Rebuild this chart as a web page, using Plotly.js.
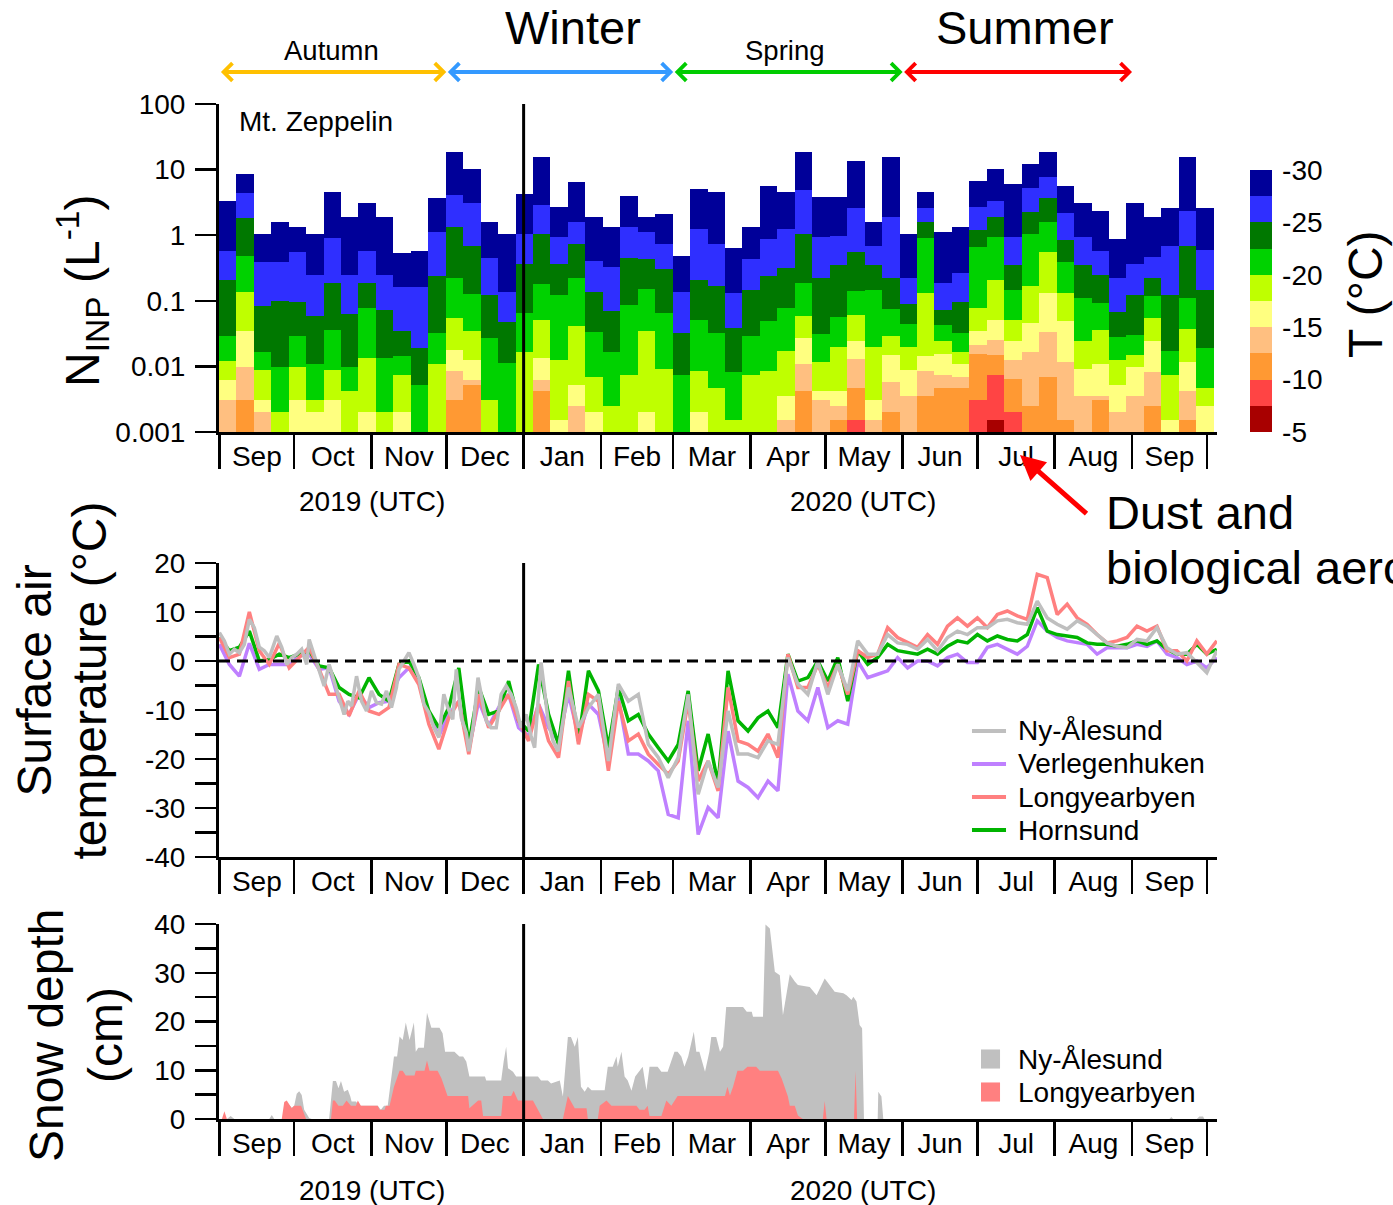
<!DOCTYPE html>
<html>
<head>
<meta charset="utf-8">
<script src="https://cdn.plot.ly/plotly-3.0.1.min.js"></script>
<style>
  html, body { margin: 0; padding: 0; background: #ffffff; }
  #chart { width: 1393px; height: 1205px; }
</style>
</head>
<body>
<div id="chart"></div>
<script>
// ---------------- INP samples at Mt. Zeppelin (weekly filters) ----------------
// Sample boundaries (UTC); bar i spans sampleEdges[i] .. sampleEdges[i+1]
const sampleEdges = [
  "2019-09-01T00:00",
  "2019-09-07T18:00","2019-09-14T18:00","2019-09-21T18:00","2019-09-28T18:00",
  "2019-10-05T18:00","2019-10-12T18:00","2019-10-19T18:00","2019-10-26T18:00",
  "2019-11-02T18:00","2019-11-09T18:00","2019-11-16T18:00","2019-11-23T18:00","2019-11-30T18:00",
  "2019-12-07T18:00","2019-12-14T18:00","2019-12-21T18:00","2019-12-28T18:00",
  "2020-01-04T18:00","2020-01-11T18:00","2020-01-18T18:00","2020-01-25T18:00",
  "2020-02-01T18:00","2020-02-08T18:00","2020-02-15T18:00","2020-02-22T18:00","2020-02-29T18:00",
  "2020-03-07T18:00","2020-03-14T18:00","2020-03-21T18:00","2020-03-28T18:00",
  "2020-04-04T18:00","2020-04-11T18:00","2020-04-18T18:00","2020-04-25T18:00",
  "2020-05-02T18:00","2020-05-09T18:00","2020-05-16T18:00","2020-05-23T18:00","2020-05-30T18:00",
  "2020-06-06T18:00","2020-06-13T18:00","2020-06-20T18:00","2020-06-27T18:00",
  "2020-07-04T18:00","2020-07-11T18:00","2020-07-18T18:00","2020-07-25T18:00",
  "2020-08-01T18:00","2020-08-08T18:00","2020-08-15T18:00","2020-08-22T18:00","2020-08-29T18:00",
  "2020-09-05T18:00","2020-09-12T18:00","2020-09-19T18:00","2020-09-26T18:00",
  "2020-10-03T18:00"
];

// Cumulative INP concentration (L^-1) active at each freezing temperature; null = below detection
const inpAtMinus30 = [3.3,8.7,1.03,1.58,1.35,1.03,4.6,1.9,3.1,1.9, 0.54,0.57,3.7,18.7,10.2,1.58,1.03,4.2,15.7,2.7, 6.5,1.9,1.35,3.9,1.9,2.1,0.48,5.1,4.6,0.63, 1.35,5.7,4.6,18.7,3.8,3.8,13.3,1.58,15.7,1.03, 4.6,1.13,1.35,6.7,10.2,6.1,12.3,18.7,5.7,3.1, 2.35,0.89,3.1,1.9,2.6,15.7,2.6];
const inpAtMinus27_5 = [0.57,4.4,0.39,0.39,0.55,0.25,0.90,0.25,0.57,0.25, 0.164,0.164,1.12,4.1,3.1,0.45,0.136,1.03,2.9,0.94, 1.6,0.41,0.33,1.35,1.12,0.73,0.136,1.23,0.73,0.13, 0.43,0.87,1.23,4.9,0.95,0.97,2.6,0.69,1.9,0.225, 2.6,0.19,0.27,2.7,3.3,0.95,5.2,7.8,2.2,0.95, 0.57,0.225,0.37,0.47,0.69,2.35,0.60];
const inpAtMinus25 = [0.21,1.86,0.083,0.099,0.096,0.058,0.19,0.064,0.184,0.072, 0.0345,0.0192,0.24,1.35,0.69,0.121,0.048,0.36,1.03,0.36, 0.73,0.137,0.071,0.45,0.44,0.305,0.0321,0.205,0.168,0.039, 0.144,0.24,0.32,1.03,0.225,0.35,0.55,0.35,0.225,0.091, 1.58,0.072,0.097,1.22,1.9,0.35,2.27,3.7,0.84,0.35, 0.25,0.067,0.121,0.225,0.121,0.69,0.146];
const inpAtMinus22_5 = [0.029,0.49,0.0165,0.0097,0.029,0.0109,0.0365,0.0097,0.077,0.0135, 0.0146,0.0053,0.0321,0.225,0.125,0.0269,0.0112,0.065,0.178,0.121, 0.22,0.0337,0.0165,0.085,0.149,0.066,0.0075,0.051,0.0321,0.0081, 0.0296,0.05,0.077,0.19,0.0317,0.056,0.141,0.144,0.074,0.044, 0.90,0.043,0.0325,0.65,0.95,0.144,1.03,1.58,0.39,0.111, 0.092,0.0282,0.0306,0.118,0.0171,0.111,0.0192];
const inpAtMinus20 = [0.0123,0.136,0.0087,0.002,0.0097,0.0031,0.0087,0.0042,0.0135,0.002, 0.0075,null,0.0109,0.055,0.0345,0.0031,null,0.0165,0.051,0.0124, 0.041,0.0069,0.0025,0.0075,0.0345,0.0092,null,0.0086,0.0047,0.0015, 0.0075,0.0086,0.0171,0.058,0.0117,0.0199,0.061,0.0199,0.0296,0.0199, 0.13,0.0242,0.0165,0.078,0.205,0.051,0.168,0.55,0.13,0.024, 0.0365,0.0124,0.0148,0.055,0.0075,0.037,0.0047];
const inpAtMinus17_5 = [0.0063,0.0345,0.0031,null,0.0031,0.002,0.0031,null,0.002,null, 0.002,null,null,0.0177,0.0124,null,null,null,0.0135,0.0015, 0.0053,0.002,null,null,0.002,null,null,0.002,null,null, null,null,0.0036,0.0269,0.0042,0.0042,0.024,0.0031,0.0148,0.0087, 0.0143,0.0155,0.0109,0.0345,0.051,0.0248,0.046,0.13,0.05,0.0092, 0.0109,0.0053,0.0097,0.0248,0.0015,0.0117,0.0025];
const inpAtMinus15 = [0.0031,0.0097,0.002,null,null,null,null,null,null,null, null,null,null,0.0086,0.0063,null,null,null,0.0063,null, 0.0025,null,null,null,null,null,null,null,null,null, null,null,0.0015,0.0109,0.0031,0.0025,0.013,0.0015,0.0058,0.0036, 0.0086,0.0075,0.0068,0.0216,0.0254,0.0124,0.0165,0.0337,0.0117,0.0036, 0.0036,0.002,0.0036,0.0081,null,0.0042,null];
const inpAtMinus12_5 = [null,0.0031,null,null,null,null,null,null,null,null, null,null,null,0.0031,0.0053,null,null,null,0.0042,null, null,null,null,null,null,null,null,null,null,null, null,null,null,0.0042,null,0.0015,0.0047,null,0.002,null, 0.0036,0.0047,0.0047,0.0155,0.0148,0.0064,0.0025,0.0068,0.0015,null, 0.0031,null,null,0.0025,null,0.0015,null];
const inpAtMinus10 = [null,null,null,null,null,null,null,null,null,null, null,null,null,null,null,null,null,null,null,null, null,null,null,null,null,null,null,null,null,null, null,null,null,null,null,null,0.0015,null,null,null, null,null,null,0.0031,0.0075,0.002,null,null,null,null, null,null,null,null,null,null,null];
const inpAtMinus7_5 = [null,null,null,null,null,null,null,null,null,null, null,null,null,null,null,null,null,null,null,null, null,null,null,null,null,null,null,null,null,null, null,null,null,null,null,null,null,null,null,null, null,null,null,null,0.0015,null,null,null,null,null, null,null,null,null,null,null,null];

// Temperature bins (°C), coldest first, and their colours
const binTemps = [-30, -27.5, -25, -22.5, -20, -17.5, -15, -12.5, -10, -7.5];
const binColors = ['#000099','#2f2fff','#007800','#00d200','#bfff00','#ffff80','#ffbf80','#ff9933','#ff4444','#a80000'];
const colorbarTicks = [-5, -10, -15, -20, -25, -30];

// ---------------- Surface air temperature (°C) ----------------
const nyDates = ["2019-09-01","2019-09-03","2019-09-05","2019-09-07","2019-09-09","2019-09-11","2019-09-13","2019-09-15","2019-09-17","2019-09-19","2019-09-21","2019-09-24","2019-09-26","2019-09-28","2019-09-30",
  "2019-10-02","2019-10-04","2019-10-06","2019-10-07","2019-10-09","2019-10-11","2019-10-13","2019-10-15","2019-10-17","2019-10-19","2019-10-21","2019-10-22 12:00","2019-10-24","2019-10-26","2019-10-28","2019-10-30",
  "2019-11-01","2019-11-03","2019-11-05","2019-11-07","2019-11-09","2019-11-11","2019-11-12","2019-11-14","2019-11-16","2019-11-18","2019-11-20","2019-11-22","2019-11-24","2019-11-26","2019-11-28","2019-11-30",
  "2019-12-01 14:00","2019-12-03 14:00","2019-12-05","2019-12-07","2019-12-09","2019-12-10","2019-12-11 17:00","2019-12-13 17:00","2019-12-15","2019-12-17","2019-12-19","2019-12-21","2019-12-23","2019-12-25","2019-12-27","2019-12-29","2019-12-31",
  "2020-01-02","2020-01-04","2020-01-05 10:00","2020-01-06 19:00","2020-01-08","2020-01-09 10:00","2020-01-10 19:00","2020-01-12 19:00","2020-01-14 19:00",
  "2020-01-19","2020-01-23","2020-01-27","2020-01-31","2020-02-04","2020-02-08","2020-02-12","2020-02-16","2020-02-20","2020-02-24","2020-02-28","2020-03-03","2020-03-07","2020-03-11","2020-03-15","2020-03-19","2020-03-23","2020-03-27","2020-03-31","2020-04-04","2020-04-08","2020-04-12","2020-04-16","2020-04-20","2020-04-24","2020-04-28","2020-05-02","2020-05-06","2020-05-10","2020-05-14","2020-05-18","2020-05-22","2020-05-26","2020-05-30","2020-06-03","2020-06-07","2020-06-11","2020-06-15","2020-06-19","2020-06-23","2020-06-27","2020-07-01","2020-07-05","2020-07-09","2020-07-13","2020-07-17","2020-07-21","2020-07-25","2020-07-29","2020-08-02","2020-08-06","2020-08-10","2020-08-14","2020-08-18","2020-08-22","2020-08-26","2020-08-30","2020-09-03","2020-09-07","2020-09-11","2020-09-15","2020-09-19","2020-09-23","2020-09-27","2020-10-01","2020-10-05"];
const tempNyAlesund = [5.8,4.1,1.4,2.4,1.7,3.4,8.5,6.8,2.8,2.1,0.7,5.1,2.8,-0.7,0.7,
  1.4,2.4,-0.7,4.4,1.4,-1.7,-5.1,-0.7,-4.1,-7.1,-10.9,-8.2,-9.2,-3.1,-8.2,-10.2,
  -6.1,-8.5,-8.8,-6.1,-9.5,-5.4,-1.7,0.0,1.7,-0.7,-3.4,-8.8,-10.5,-13.6,-15.6,-6.8,
  -9.5,-11.9,-1.7,-11.6,-14.6,-18.4,-13.6,-3.4,-6.8,-12.2,-13.6,-13.6,-6.8,-5.1,-6.8,-9.5,-13.6,
  -10.9,-15.3,-17.7,-8.2,-0.3,-6.1,-12.2,-16.3,-18.4,
  -5.4,-13.6,-9.5,-6.8,-20.4,-4.7,-8.2,-6.8,-17.0,-19.7,-23.8,-19.7,-6.8,-27.2,-20.4,-25.8,-10.2,-19.0,-19.0,-19.7,-16.3,-17.0,0.7,-4.7,-6.8,0.0,-6.8,-0.7,-6.1,4.1,1.4,1.4,
  5.4,3.7,3.4,2.4,4.4,2.1,4.8,6.1,5.4,6.8,6.8,8.2,8.5,7.8,7.5,12.2,8.8,7.5,6.5,8.2,7.1,5.4,3.7,3.0,2.7,4.4,4.1,6.8,2.7,1.4,1.7,-0.3,-2.4,2.1];

const tempDates = ["2019-09-01","2019-09-05","2019-09-09","2019-09-13","2019-09-17","2019-09-21","2019-09-25","2019-09-29","2019-10-03","2019-10-07","2019-10-11","2019-10-15","2019-10-19","2019-10-23","2019-10-27","2019-10-31","2019-11-04","2019-11-08","2019-11-12","2019-11-16","2019-11-20","2019-11-24","2019-11-28","2019-12-02","2019-12-06","2019-12-10","2019-12-14","2019-12-18","2019-12-22","2019-12-26","2019-12-30","2020-01-03","2020-01-07","2020-01-11","2020-01-15","2020-01-19","2020-01-23","2020-01-27","2020-01-31","2020-02-04","2020-02-08","2020-02-12","2020-02-16","2020-02-20","2020-02-24","2020-02-28","2020-03-03","2020-03-07","2020-03-11","2020-03-15","2020-03-19","2020-03-23","2020-03-27","2020-03-31","2020-04-04","2020-04-08","2020-04-12","2020-04-16","2020-04-20","2020-04-24","2020-04-28","2020-05-02","2020-05-06","2020-05-10","2020-05-14","2020-05-18","2020-05-22","2020-05-26","2020-05-30","2020-06-03","2020-06-07","2020-06-11","2020-06-15","2020-06-19","2020-06-23","2020-06-27","2020-07-01","2020-07-05","2020-07-09","2020-07-13","2020-07-17","2020-07-21","2020-07-25","2020-07-29","2020-08-02","2020-08-06","2020-08-10","2020-08-14","2020-08-18","2020-08-22","2020-08-26","2020-08-30","2020-09-03","2020-09-07","2020-09-11","2020-09-15","2020-09-19","2020-09-23","2020-09-27","2020-10-01","2020-10-05"];
const tempVerlegenhuken = [3.4,-0.7,-3.1,3.6,-1.7,-0.7,-0.7,-0.7,1.0,1.4,-1.7,-1.4,-8.2,-10.9,-6.8,-9.5,-8.5,-8.2,-3.4,-1.4,-4.1,-10.9,-15.3,-10.9,-8.2,-18.0,-8.2,-13.3,-9.5,-6.8,-13.6,-15.3,-8.8,-13.6,-16.3,
  -6.8,-15.3,-8.8,-10.9,-20.4,-7.5,-19.0,-19.0,-20.4,-22.4,-31.3,-32.0,-12.2,-35.4,-29.9,-32.0,-14.3,-24.5,-25.8,-27.9,-24.5,-26.5,-2.7,-10.2,-12.2,-5.4,-13.6,-12.2,-12.9,0.0,-3.4,-2.7,
  -2.0,0.7,-1.4,0.0,0.0,-1.0,0.7,1.4,-0.3,-0.3,2.8,3.4,2.4,1.4,3.0,8.2,6.1,4.8,4.1,3.7,3.4,1.4,2.7,2.7,2.7,3.4,3.0,4.1,1.4,0.7,-0.7,0.0,-1.4,0.7];
const tempLongyearbyen = [4.8,0.7,1.4,10.0,2.1,-0.7,3.6,-1.4,0.7,2.8,-1.7,-6.8,-6.8,-11.2,-6.1,-10.2,-10.9,-9.5,-0.7,-1.4,-4.8,-12.9,-18.0,-11.6,-8.2,-19.0,-6.8,-13.6,-10.2,-6.8,-12.2,-16.3,-8.8,-16.3,-19.7,
  -4.1,-17.0,-6.8,-8.2,-22.4,-8.2,-16.3,-14.9,-19.0,-21.1,-23.1,-20.4,-8.2,-24.5,-20.4,-26.5,-5.4,-16.3,-17.0,-18.4,-14.9,-19.7,1.4,-5.4,-5.4,-0.7,-5.4,-0.7,-6.8,2.1,0.7,1.4,
  6.8,4.8,3.7,2.8,5.4,3.4,7.1,8.8,7.1,8.8,6.8,9.5,10.2,9.2,8.5,17.7,17.0,9.5,11.6,8.8,7.5,5.4,3.7,4.1,4.8,7.1,6.1,7.1,2.1,2.1,0.0,4.1,1.4,4.1];
const tempHornsund = [4.8,2.1,2.8,6.1,0.0,0.3,1.4,0.7,1.4,2.1,-1.0,-1.4,-5.4,-6.8,-7.5,-3.4,-6.8,-8.2,-0.7,0.0,-3.4,-10.2,-13.6,-9.5,-1.4,-17.0,-5.4,-10.9,-10.2,-4.1,-12.2,-14.3,-0.7,-10.9,-17.0,
  -2.0,-16.3,-2.0,-6.1,-17.7,-5.4,-12.2,-10.9,-14.9,-17.7,-20.4,-17.0,-6.1,-22.4,-14.9,-25.1,-2.0,-12.2,-14.3,-11.6,-10.2,-13.6,1.4,-4.1,-3.4,0.0,-4.1,0.7,-8.2,2.1,-0.7,0.7,
  3.4,2.1,1.7,1.4,2.4,1.4,3.0,4.1,3.7,5.4,4.1,5.1,4.4,4.1,5.4,10.9,6.1,5.4,5.1,4.8,3.7,3.4,3.4,3.0,3.4,4.1,3.4,4.1,2.4,1.4,1.4,3.4,1.4,2.4];

// ---------------- Snow depth (cm) ----------------
const snowNyDates = ["2019-09-01","2019-09-04","2019-09-05 12:00","2019-09-07","2019-09-21","2019-09-22","2019-09-23","2019-09-27","2019-09-28","2019-09-30","2019-10-01","2019-10-02","2019-10-03","2019-10-04","2019-10-05","2019-10-07","2019-10-08","2019-10-15",
  "2019-10-16 12:00","2019-10-17 18:00","2019-10-18 18:00","2019-10-19 18:00","2019-10-21","2019-10-22 12:00","2019-10-23 12:00","2019-10-24","2019-10-25 18:00","2019-10-26 18:00","2019-10-27",
  "2019-11-03 12:00","2019-11-04 18:00","2019-11-06","2019-11-07 12:00","2019-11-09 12:00","2019-11-10","2019-11-11 06:00","2019-11-12 06:00","2019-11-13 12:00","2019-11-14 18:00","2019-11-16 06:00","2019-11-18","2019-11-18 18:00","2019-11-19 18:00","2019-11-22","2019-11-23 06:00","2019-11-25","2019-11-28 06:00","2019-11-29 12:00","2019-11-30 12:00",
  "2019-12-04 06:00","2019-12-06 06:00","2019-12-07 18:00","2019-12-09","2019-12-10 06:00","2019-12-16 12:00","2019-12-17","2019-12-23","2019-12-24","2019-12-25","2019-12-25 18:00","2019-12-27 18:00","2019-12-29",
  "2020-01-06 18:00","2020-01-08","2020-01-10 18:00","2020-01-12","2020-01-15 12:00","2020-01-16 18:00","2020-01-18 18:00","2020-01-20","2020-01-21 12:00","2020-01-22 18:00","2020-01-24","2020-01-25 12:00","2020-01-26 18:00","2020-01-28 06:00",
  "2020-02-02 12:00","2020-02-03 18:00","2020-02-05 18:00","2020-02-07 06:00","2020-02-07 18:00","2020-02-09 06:00","2020-02-10 12:00","2020-02-11 18:00","2020-02-13 06:00","2020-02-14 18:00","2020-02-17 18:00","2020-02-19 06:00","2020-02-20 12:00","2020-02-23 18:00","2020-02-25 06:00","2020-02-27 18:00",
  "2020-03-01 12:00","2020-03-02 18:00","2020-03-04 06:00","2020-03-05 12:00","2020-03-07","2020-03-09 06:00","2020-03-10 06:00","2020-03-11 12:00","2020-03-13 18:00","2020-03-15 12:00","2020-03-16 06:00","2020-03-18 06:00","2020-03-19 18:00","2020-03-21","2020-03-22 06:00","2020-03-23 18:00","2020-03-29","2020-03-30 12:00",
  "2020-04-01 12:00","2020-04-02","2020-04-06","2020-04-07","2020-04-08 18:00","2020-04-10 18:00","2020-04-12 18:00","2020-04-14","2020-04-15 12:00","2020-04-16 18:00","2020-04-18 18:00","2020-04-20","2020-04-24 18:00","2020-04-27 12:00","2020-04-30 18:00",
  "2020-05-02 18:00","2020-05-04 18:00","2020-05-08 06:00","2020-05-09 12:00","2020-05-11 12:00","2020-05-12 06:00","2020-05-13 12:00","2020-05-14 18:00","2020-05-15 18:00","2020-05-16 12:00","2020-05-22","2020-05-22 06:00","2020-05-23 12:00","2020-05-24 06:00",
  "2020-09-16","2020-09-16 18:00","2020-09-17 12:00","2020-09-27","2020-09-28","2020-09-29 12:00","2020-09-30","2020-10-05"];
const snowNyDepth = [0,0,0.6,0,0,0.8,0,0,3.5,2.3,2.7,5.2,5.7,4.9,1.9,0.2,0,0,
  7.8,7.8,6.3,7.8,5.6,6.0,4.6,3.6,3.6,2.9,2.7,
  2.7,1.9,2.7,2.7,10.7,12.8,12.8,16.9,16.2,19.8,16.2,19.8,13.8,14.6,14.6,21.8,18.7,18.7,17.6,13.8,
  13.8,12.8,12.8,11.8,8.7,8.7,7.9,7.9,11.8,14.8,10.4,9.7,8.7,
  8.7,7.9,7.9,7.3,7.9,4.6,16.8,16.8,14.8,16.8,6.6,5.6,6.6,5.9,
  5.9,10.7,10.7,12.8,10.7,13.8,8.7,7.9,5.8,8.7,10.7,5.9,10.7,10.7,9.7,9.7,
  13.8,13.8,12.8,10.7,12.8,17.9,13.8,13.8,9.7,13.8,16.8,16.8,13.8,14.8,23.0,23.0,23.0,22.0,
  22.0,21.0,21.0,39.9,39.1,30.2,29.5,21.3,26.1,29.7,28.2,27.5,27.1,25.4,28.8,
  27.5,26.1,25.8,25.4,24.4,25.1,24.1,19.3,18.6,0,0,5.6,4.6,0,
  0,0.4,0,0,0.5,0.5,0,0];

const snowLyrDates = ["2019-09-01","2019-09-02","2019-09-03","2019-09-04","2019-09-26","2019-09-27","2019-09-28","2019-09-30","2019-10-01","2019-10-03 18:00","2019-10-05 18:00","2019-10-15 18:00",
  "2019-10-16 12:00","2019-10-17 06:00","2019-10-18 18:00","2019-10-20 12:00","2019-10-22","2019-10-23 18:00","2019-10-25 18:00","2019-10-26 12:00","2019-10-27 18:00",
  "2019-11-03 12:00","2019-11-04 06:00","2019-11-06 06:00","2019-11-06 18:00","2019-11-08 06:00","2019-11-10","2019-11-12 06:00","2019-11-13 12:00","2019-11-14 18:00","2019-11-18 06:00","2019-11-18 18:00","2019-11-22 06:00","2019-11-23 06:00","2019-11-24 06:00","2019-11-27 12:00","2019-11-29",
  "2019-12-01 12:00","2019-12-09 18:00","2019-12-10 06:00","2019-12-13 18:00","2019-12-15","2019-12-15 18:00","2019-12-23","2019-12-23 18:00","2019-12-27","2019-12-28","2019-12-29 18:00",
  "2020-01-04 18:00","2020-01-08 18:00","2020-01-16 18:00","2020-01-18 18:00","2020-01-21 12:00","2020-01-26 06:00","2020-01-26 18:00","2020-01-30 18:00",
  "2020-01-31 12:00","2020-02-03 06:00","2020-02-05 06:00","2020-02-15 06:00","2020-02-16 12:00","2020-02-18 12:00","2020-02-19 18:00","2020-02-20 12:00","2020-02-25 06:00","2020-02-27 06:00",
  "2020-02-29 06:00","2020-03-02 18:00","2020-03-21 18:00","2020-03-22 18:00","2020-03-23 18:00","2020-03-25","2020-03-26 18:00","2020-03-29",
  "2020-03-30 18:00","2020-04-03 06:00","2020-04-04 18:00","2020-04-12","2020-04-13 12:00","2020-04-14 18:00","2020-04-16","2020-04-16 18:00","2020-04-18 18:00","2020-04-20","2020-04-22","2020-04-30","2020-04-30 18:00","2020-05-01 12:00",
  "2020-05-12 12:00","2020-05-13 03:00","2020-05-13 18:00","2020-10-05"];
const snowLyrDepth = [0,0,1.6,0,0,3.5,3.8,2.2,2.7,2.7,0,0,
  3.8,3.8,2.7,2.7,3.8,2.7,2.7,3.8,2.7,
  2.7,1.9,1.9,2.7,2.7,6.6,9.9,9.9,8.9,8.9,9.9,9.9,12.0,9.9,9.9,8.4,
  4.7,4.7,2.2,3.8,3.8,0.6,0.6,4.7,4.7,5.8,3.8,
  3.8,0,0,4.7,2.2,2.2,0,0,
  2.7,3.8,2.7,2.7,1.9,1.9,2.7,0.6,0.6,3.8,
  2.7,4.7,4.7,6.6,4.8,6.6,9.9,9.9,
  10.7,10.7,9.9,9.9,8.3,6.6,4.6,2.7,2.7,0.7,0,0,3.7,0,
  0,9.9,0,0];

// ---------------- Figure ----------------
const FONT = 'Liberation Sans, Arial, Helvetica, sans-serif';
const X_RANGE = ['2019-08-31 20:00', '2020-10-05 02:00'];
const traces = [];

// Stacked INP spectra: each colour spans from the next-warmer level (or the axis floor) up to its own level
const toMs = s => Date.parse(s + 'Z');
const edgeMs = sampleEdges.map(toMs);
const centers = [], widths = [];
for (let i = 0; i < edgeMs.length - 1; i++) {
  centers.push((edgeMs[i] + edgeMs[i + 1]) / 2);
  widths.push(edgeMs[i + 1] - edgeMs[i]);
}
const inpLevels = [inpAtMinus30, inpAtMinus27_5, inpAtMinus25, inpAtMinus22_5, inpAtMinus20,
                   inpAtMinus17_5, inpAtMinus15, inpAtMinus12_5, inpAtMinus10, inpAtMinus7_5];
const FLOOR = 1e-3;
inpLevels.forEach((top, k) => {
  const warmer = inpLevels[k + 1];
  const base = [], size = [];
  top.forEach((v, i) => {
    if (v == null) { base.push(null); size.push(null); return; }
    const b = (warmer && warmer[i] != null) ? warmer[i] : FLOOR;
    base.push(b); size.push(v - b);
  });
  traces.push({
    type: 'bar', x: centers, y: size, base: base, width: widths,
    name: binTemps[k] + ' °C',
    marker: { color: binColors[k], line: { width: 0 } },
    xaxis: 'x', yaxis: 'y', showlegend: false, hoverinfo: 'skip'
  });
});

// Discrete colour bar (values are -T so the coldest bin sits on top)
const cbScale = [];
binColors.slice().reverse().forEach((c, i) => { cbScale.push([i / 10, c]); cbScale.push([(i + 1) / 10, c]); });
traces.push({
  type: 'scatter', mode: 'markers', x: [null], y: [null], xaxis: 'x', yaxis: 'y',
  showlegend: false, hoverinfo: 'skip',
  marker: {
    color: [5], cmin: 5, cmax: 30, colorscale: cbScale, showscale: true,
    colorbar: {
      x: 1.0331, xanchor: 'left', y: 0.806, yanchor: 'middle',
      len: 262, lenmode: 'pixels', thickness: 22, thicknessmode: 'pixels',
      outlinewidth: 0, xpad: 0, ypad: 0, ticks: 'outside', ticklen: 5, tickcolor: 'rgba(0,0,0,0)',
      tickvals: colorbarTicks.map(t => -t), ticktext: colorbarTicks.map(t => String(t)),
      tickfont: { family: FONT, size: 28, color: '#000' }
    }
  }
});

// Temperature lines (grey drawn last, on top)
const stations = [
  { name: 'Verlegenhuken', x: tempDates, y: tempVerlegenhuken, color: '#bf80ff' },
  { name: 'Hornsund',      x: tempDates, y: tempHornsund,      color: '#00b400' },
  { name: 'Longyearbyen',  x: tempDates, y: tempLongyearbyen,  color: '#ff8080' },
  { name: 'Ny-Ålesund',    x: nyDates,   y: tempNyAlesund,     color: '#bfbfbf' }
];
stations.forEach(s => traces.push({
  type: 'scatter', mode: 'lines', x: s.x, y: s.y, name: s.name,
  line: { color: s.color, width: 3.5 }, xaxis: 'x2', yaxis: 'y2', showlegend: false, hoverinfo: 'skip'
}));

// Snow depth areas
traces.push({ type: 'scatter', mode: 'lines', x: snowNyDates, y: snowNyDepth, fill: 'tozeroy', name: 'Ny-Ålesund',
  fillcolor: '#c0c0c0', line: { width: 0, color: '#c0c0c0' }, xaxis: 'x3', yaxis: 'y3', showlegend: false, hoverinfo: 'skip' });
traces.push({ type: 'scatter', mode: 'lines', x: snowLyrDates, y: snowLyrDepth, fill: 'tozeroy', name: 'Longyearbyen',
  fillcolor: '#ff8080', line: { width: 0, color: '#ff8080' }, xaxis: 'x3', yaxis: 'y3', showlegend: false, hoverinfo: 'skip' });

// Axes
const tickFont = { family: FONT, size: 28, color: '#000' };
function xAxis(anchor) {
  return {
    anchor: anchor, domain: [0, 1], type: 'date', range: X_RANGE,
    showline: true, linewidth: 3, linecolor: '#000', mirror: false,
    ticks: 'outside', ticklen: 34, tickwidth: 2.5, tickcolor: '#000',
    dtick: 'M1', tick0: '2019-09-01', tickformat: '%b', ticklabelmode: 'period',
    ticklabelstandoff: -37, tickfont: tickFont, showgrid: false, zeroline: false
  };
}
function yAxis(anchor, domain, extra) {
  return Object.assign({
    anchor: anchor, domain: domain, showline: true, linewidth: 3, linecolor: '#000',
    ticks: 'outside', ticklen: 21, tickwidth: 2.5, tickcolor: '#000', ticklabelstandoff: 4,
    tickfont: tickFont, showgrid: false, zeroline: false
  }, extra);
}
const minorTicks = { dtick: 5, ticks: 'outside', ticklen: 21, tickwidth: 2.5, tickcolor: '#000', showgrid: false };

const layout = {
  width: 1393, height: 1205,
  margin: { l: 219, r: 176, t: 104, b: 86, pad: 0 },
  paper_bgcolor: '#ffffff', plot_bgcolor: 'rgba(0,0,0,0)',
  font: { family: FONT, color: '#000' },
  showlegend: false,
  barmode: 'overlay', bargap: 0,
  xaxis: xAxis('y'),
  xaxis2: Object.assign(xAxis('y2'), { matches: 'x' }),
  xaxis3: Object.assign(xAxis('y3'), { matches: 'x' }),
  yaxis: yAxis('x', [0.6768, 1], {
    type: 'log', range: [-3, 2],
    tickvals: [0.001, 0.01, 0.1, 1, 10, 100], ticktext: ['0.001', '0.01', '0.1', '1', '10', '100']
  }),
  yaxis2: yAxis('x2', [0.2581, 0.5478], {
    range: [-40, 20], tickvals: [-40, -30, -20, -10, 0, 10, 20],
    ticktext: ['-40', '-30', '-20', '-10', '0', '10', '20'], minor: minorTicks
  }),
  yaxis3: yAxis('x3', [0, 0.1921], {
    range: [0, 40], tickvals: [0, 10, 20, 30, 40], ticktext: ['0', '10', '20', '30', '40'], minor: minorTicks
  }),
  shapes: [
    { type: 'line', xref: 'x', yref: 'y domain', x0: '2020-01-01', x1: '2020-01-01', y0: 0, y1: 1, line: { color: '#000', width: 3 } },
    { type: 'line', xref: 'x2', yref: 'y2 domain', x0: '2020-01-01', x1: '2020-01-01', y0: 0, y1: 1, line: { color: '#000', width: 3 } },
    { type: 'line', xref: 'x3', yref: 'y3 domain', x0: '2020-01-01', x1: '2020-01-01', y0: 0, y1: 1, line: { color: '#000', width: 3 } },
    { type: 'line', xref: 'x2 domain', yref: 'y2', x0: 0, x1: 1, y0: 0, y1: 0, line: { color: '#000', width: 3, dash: '11px,7px' } }
  ],
  annotations: []
};

const A = layout.annotations;
const S = layout.shapes;
const bigFont = { family: FONT, size: 48, color: '#000' };
const legendFont = { family: FONT, size: 28, color: '#000' };

// Legend keys for the temperature panel (line samples) and the snow panel (filled squares)
[['Ny-Ålesund', '#bfbfbf', 0.3823], ['Verlegenhuken', '#bf80ff', 0.3498],
 ['Longyearbyen', '#ff8080', 0.3172], ['Hornsund', '#00b400', 0.2847]].forEach(([n, c, y]) => {
  S.push({ type: 'line', xref: 'paper', yref: 'paper', x0: 0.7545, x1: 0.7886, y0: y, y1: y, line: { color: c, width: 4 } });
  A.push({ xref: 'paper', yref: 'paper', x: 0.7986, y: y, text: n, showarrow: false, font: legendFont, xanchor: 'left', yanchor: 'middle' });
});
[['Ny-Ålesund', '#c0c0c0', 0.0591], ['Longyearbyen', '#ff8080', 0.0266]].forEach(([n, c, y]) => {
  S.push({ type: 'rect', xref: 'paper', yref: 'paper', x0: 0.7635, x1: 0.7826, y0: y - 0.0094, y1: y + 0.0094, fillcolor: c, line: { width: 0 } });
  A.push({ xref: 'paper', yref: 'paper', x: 0.7986, y: y, text: n, showarrow: false, font: legendFont, xanchor: 'left', yanchor: 'middle' });
});

// Axis titles
A.push({ xref: 'paper', yref: 'paper', x: -0.1373, y: 0.8167, text: 'N<sub>INP</sub> (L<sup>-1</sup>)', textangle: -90, showarrow: false, font: bigFont, xanchor: 'center', yanchor: 'middle' });
A.push({ xref: 'paper', yref: 'paper', x: -0.1844, y: 0.432, text: 'Surface air', textangle: -90, showarrow: false, font: bigFont, xanchor: 'center', yanchor: 'middle' });
A.push({ xref: 'paper', yref: 'paper', x: -0.1293, y: 0.432, text: 'temperature (°C)', textangle: -90, showarrow: false, font: bigFont, xanchor: 'center', yanchor: 'middle' });
A.push({ xref: 'paper', yref: 'paper', x: -0.1734, y: 0.0827, text: 'Snow depth', textangle: -90, showarrow: false, font: bigFont, xanchor: 'center', yanchor: 'middle' });
A.push({ xref: 'paper', yref: 'paper', x: -0.1142, y: 0.0827, text: '(cm)', textangle: -90, showarrow: false, font: bigFont, xanchor: 'center', yanchor: 'middle' });
A.push({ xref: 'paper', yref: 'paper', x: 1.1483, y: 0.8128, text: 'T (°C)', textangle: -90, showarrow: false, font: bigFont, xanchor: 'center', yanchor: 'middle' });
// Station label
A.push({ xref: 'paper', yref: 'paper', x: 0.018, y: 0.9823, text: 'Mt. Zeppelin', showarrow: false, font: { family: FONT, size: 28, color: '#000' }, xanchor: 'left', yanchor: 'middle' });
// Year labels
[['2019-11-01', '2019 (UTC)'], ['2020-05-16', '2020 (UTC)']].forEach(([d, t]) => {
  A.push({ xref: 'x', yref: 'paper', x: d, y: 0.6079, text: t, showarrow: false, font: tickFont, xanchor: 'center', yanchor: 'middle' });
  A.push({ xref: 'x', yref: 'paper', x: d, y: -0.0700, text: t, showarrow: false, font: tickFont, xanchor: 'center', yanchor: 'middle' });
});
// Seasons: arrow spans and their labels
const seasons = [
  { name: 'Autumn', from: '2019-09-01', to: '2019-12-01', label: '2019-10-16', color: '#ffc000', big: false },
  { name: 'Winter', from: '2019-12-01', to: '2020-03-01', label: '2020-01-21', color: '#3399ff', big: true },
  { name: 'Spring', from: '2020-03-01', to: '2020-06-01', label: '2020-04-15', color: '#00cc00', big: false },
  { name: 'Summer', from: '2020-06-01', to: '2020-09-01', label: '2020-07-20', color: '#ff0000', big: true }
];
seasons.forEach(s => {
  A.push({ xref: 'x', yref: 'paper', x: s.to, y: 1.0315, ax: s.from, axref: 'x', ay: 0, ayref: 'pixel',
    text: '', showarrow: true, arrowhead: 4, startarrowhead: 4, arrowside: 'end+start',
    arrowsize: 0.85, startarrowsize: 0.85, arrowwidth: 4, arrowcolor: s.color });
  A.push({ xref: 'x', yref: 'paper', x: s.label, y: s.big ? 1.0749 : 1.0532, text: s.name, showarrow: false,
    font: { family: FONT, size: s.big ? 47 : 27.5, color: '#000' }, xanchor: 'center', yanchor: 'middle' });
});
// Dust / biological aerosol callout
A.push({ xref: 'paper', yref: 'paper', x: 0.8026, y: 0.6542, ax: 68, ay: 60, axref: 'pixel', ayref: 'pixel',
  text: '', showarrow: true, arrowhead: 2, arrowsize: 1, arrowwidth: 5, arrowcolor: '#ff0000' });
A.push({ xref: 'paper', yref: 'paper', x: 0.8868, y: 0.598, text: 'Dust and',
  showarrow: false, font: { family: FONT, size: 47, color: '#000' }, xanchor: 'left', yanchor: 'middle' });
A.push({ xref: 'paper', yref: 'paper', x: 0.8868, y: 0.5429, text: 'biological aerosols',
  showarrow: false, font: { family: FONT, size: 47, color: '#000' }, xanchor: 'left', yanchor: 'middle' });

Plotly.newPlot('chart', traces, layout, { staticPlot: true, displayModeBar: false });
</script>
</body>
</html>
